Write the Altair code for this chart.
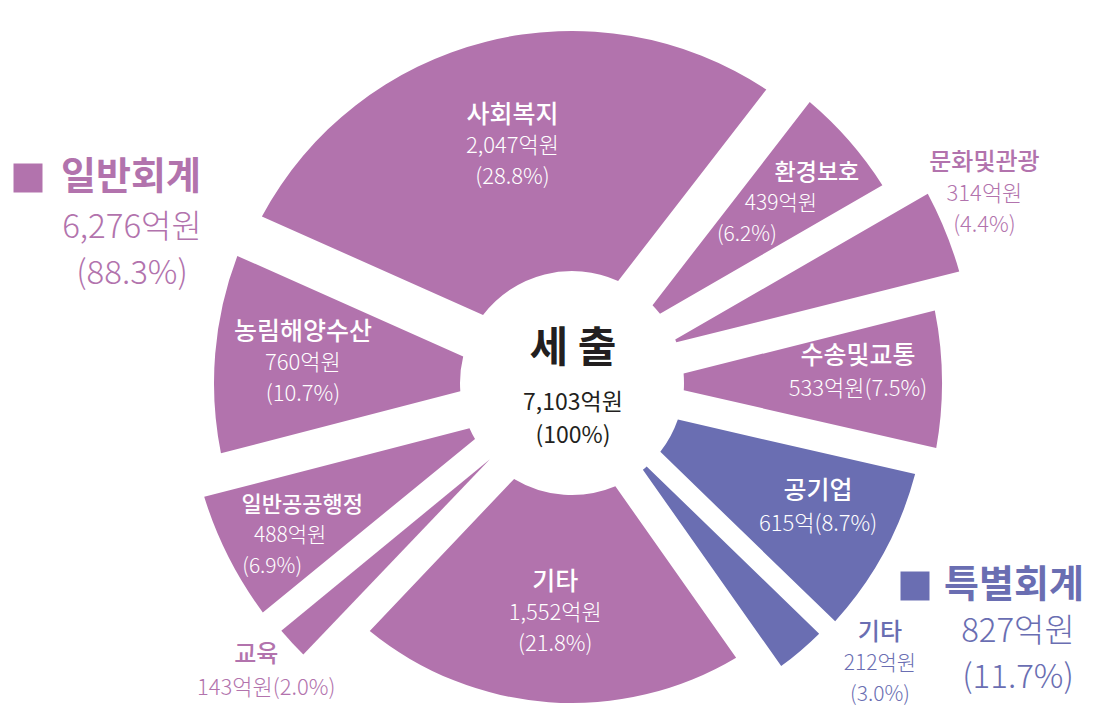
import math
import altair as alt
import pandas as pd

# ---------------- data ----------------
categories = ["사회복지", "환경보호", "문화및관광", "수송및교통", "공기업",
              "기타", "기타", "교육", "일반공공행정", "농림해양수산"]
values = [2047, 439, 314, 533, 615, 212, 1552, 143, 488, 760]
units = ["억원", "억원", "억원", "억원", "억", "억원", "억원", "억원", "억원", "억원"]
accounts = ["일반회계", "일반회계", "일반회계", "일반회계", "특별회계",
            "특별회계", "일반회계", "일반회계", "일반회계", "일반회계"]
account_names = ["일반회계", "특별회계"]
center_title = "세 출"

total = sum(values)
pct_values = [round(v / total * 100, 1) for v in values]
acc_totals = [sum(v for v, a in zip(values, accounts) if a == n) for n in account_names]
acc_pcts = [sum(p for p, a in zip(pct_values, accounts) if a == n) for n in account_names]

df = pd.DataFrame({
    "idx": list(range(len(values))),
    "category": categories,
    "value": values,
    "account": accounts,
    "amount": [f"{v:,}{u}" for v, u in zip(values, units)],
    "pct": [f"({p:.1f}%)" for p in pct_values],
})
df["amount_pct"] = df["amount"] + df["pct"]

# ---------------- style ----------------
PURPLE = "#B273AD"
BLUE = "#6A6EB2"
DARK = "#231F20"
account_colors = [PURPLE, BLUE]
FONT = "Noto Sans CJK KR"
FONT_LIGHT = "'Noto Sans CJK KR Light', 'Noto Sans CJK KR DemiLight', 'Noto Sans CJK KR'"
W, H = 1080, 698
CX, CY = 564, 375
R0 = 112
START = math.radians(-66)
theta_scale = alt.Scale(domain=[0, total], range=[START, START + 2 * math.pi])
color_scale = alt.Scale(domain=account_names, range=account_colors)

# per-slice styling: outer radius, half gap (px), label radius, layout, line shifts, font sizes
slice_style = [
    dict(r=352, hg=26, lr=244, kind="in3", dx=[0, 0, 0], oy=0, ts=25, vs=22),
    dict(r=368, hg=16, lr=272, kind="in3", dx=[40, 4, -30], oy=0, ts=23, vs=21),
    dict(r=403, hg=14, lr=445, kind="out3", dx=[0, 0, 0], oy=-22, ts=24, vs=22),
    dict(r=370, hg=18, lr=286, kind="in2", dx=[0, 0], oy=-8, ts=25, vs=22),
    dict(r=355, hg=12, lr=280, kind="in2", dx=[0, 0], oy=-10, ts=25, vs=22),
    dict(r=352, hg=8, lr=380, kind="out3", dx=[61, 61, 61], oy=-8, ts=24, vs=21),
    dict(r=320, hg=24, lr=231, kind="in3", dx=[0, 0, 0], oy=0, ts=25, vs=22),
    dict(r=382, hg=8, lr=424, kind="out2", dx=[-5, 5], oy=0, ts=24, vs=22),
    dict(r=385, hg=18, lr=316, kind="in3", dx=[12, 0, -18], oy=10, ts=22, vs=21),
    dict(r=358, hg=20, lr=270, kind="in3", dx=[0, 0, 0], oy=2, ts=25, vs=22),
]

base = (
    alt.Chart(df)
    .transform_window(cum="sum(value)", sort=[alt.SortField("idx")])
    .transform_calculate(start="datum.cum - datum.value",
                         mid="datum.cum - datum.value / 2")
)

layers = []
for i, st in enumerate(slice_style):
    rp = math.sqrt(R0 ** 2 + st["r"] ** 2)
    pad = 2 * math.asin(st["hg"] / rp)
    sub = base.transform_filter(f"datum.idx == {i}")
    layers.append(
        sub.mark_arc(innerRadius=R0, outerRadius=st["r"], padAngle=pad).encode(
            theta=alt.Theta("start:Q", scale=theta_scale),
            theta2="cum:Q",
            x=alt.value(CX),
            y=alt.value(CY),
            color=alt.Color("account:N", scale=color_scale, legend=None),
        )
    )

for i, st in enumerate(slice_style):
    sub = base.transform_filter(f"datum.idx == {i}")
    inside = st["kind"].startswith("in")
    tcolor = "white" if inside else account_colors[account_names.index(accounts[i])]
    if st["kind"].endswith("3"):
        lines = [("category", st["ts"], 500, FONT, -31), ("amount", st["vs"], 300, FONT_LIGHT, 0),
                 ("pct", st["vs"], 300, FONT_LIGHT, 31)]
    else:
        lines = [("category", st["ts"], 500, FONT, -16),
                 ("amount_pct", st["vs"], 300, FONT_LIGHT, 17)]
    for (field, size, weight, fnt, dy), dx in zip(lines, st["dx"]):
        layers.append(
            sub.mark_text(font=fnt, fontSize=size, fontWeight=weight, color=tcolor,
                          align="center", baseline="middle", dx=dx, dy=dy + st["oy"]).encode(
                theta=alt.Theta("mid:Q", scale=theta_scale),
                radius=alt.value(st["lr"]),
                x=alt.value(CX),
                y=alt.value(CY),
                text=alt.Text(f"{field}:N"),
            )
        )

# center label
center_df = pd.DataFrame({"t": [center_title, f"{total:,}억원", "(100%)"],
                          "line": [0, 1, 2]})
center_specs = [(0, 42, 700, -34), (1, 23, 400, 20), (2, 23, 400, 53)]
for line, size, weight, dy in center_specs:
    layers.append(
        alt.Chart(center_df).transform_filter(f"datum.line == {line}")
        .mark_text(font=FONT, fontSize=size, fontWeight=weight, color=DARK,
                   align="center", baseline="middle")
        .encode(x=alt.value(CX + 1), y=alt.value(CY + dy), text="t:N")
    )

# account annotations
acc_df = pd.DataFrame({
    "name": account_names,
    "amount": [f"{v:,}억원" for v in acc_totals],
    "pct": [f"({p:.1f}%)" for p in acc_pcts],
})
acc_pos = [dict(sx=20, sy=170, tx=53, ax=124, ay=220, gap=46),
           dict(sx=907, sy=578, tx=936, ax=1010, ay=624, gap=46)]
for k, pos in enumerate(acc_pos):
    sub = alt.Chart(acc_df).transform_filter(f"datum.name == '{account_names[k]}'")
    col = account_colors[k]
    layers.append(sub.mark_square(size=29 * 29, filled=True, opacity=1, color=col)
                  .encode(x=alt.value(pos["sx"]), y=alt.value(pos["sy"])))
    layers.append(sub.mark_text(font=FONT, fontSize=38, fontWeight=700, color=col,
                                align="left", baseline="middle")
                  .encode(x=alt.value(pos["tx"]), y=alt.value(pos["sy"]), text="name:N"))
    layers.append(sub.mark_text(font=FONT_LIGHT, fontSize=33, fontWeight=300, color=col,
                                align="center", baseline="middle")
                  .encode(x=alt.value(pos["ax"]), y=alt.value(pos["ay"]), text="amount:N"))
    layers.append(sub.mark_text(font=FONT_LIGHT, fontSize=33, fontWeight=300, color=col,
                                align="center", baseline="middle")
                  .encode(x=alt.value(pos["ax"]), y=alt.value(pos["ay"] + pos["gap"]), text="pct:N"))

chart = (
    alt.layer(*layers)
    .properties(width=W, height=H, padding=0, autosize=alt.AutoSizeParams(type="none"))
    .configure_view(stroke=None)
)

chart.save("out.html", embed_options={"renderer": "svg", "actions": False})
